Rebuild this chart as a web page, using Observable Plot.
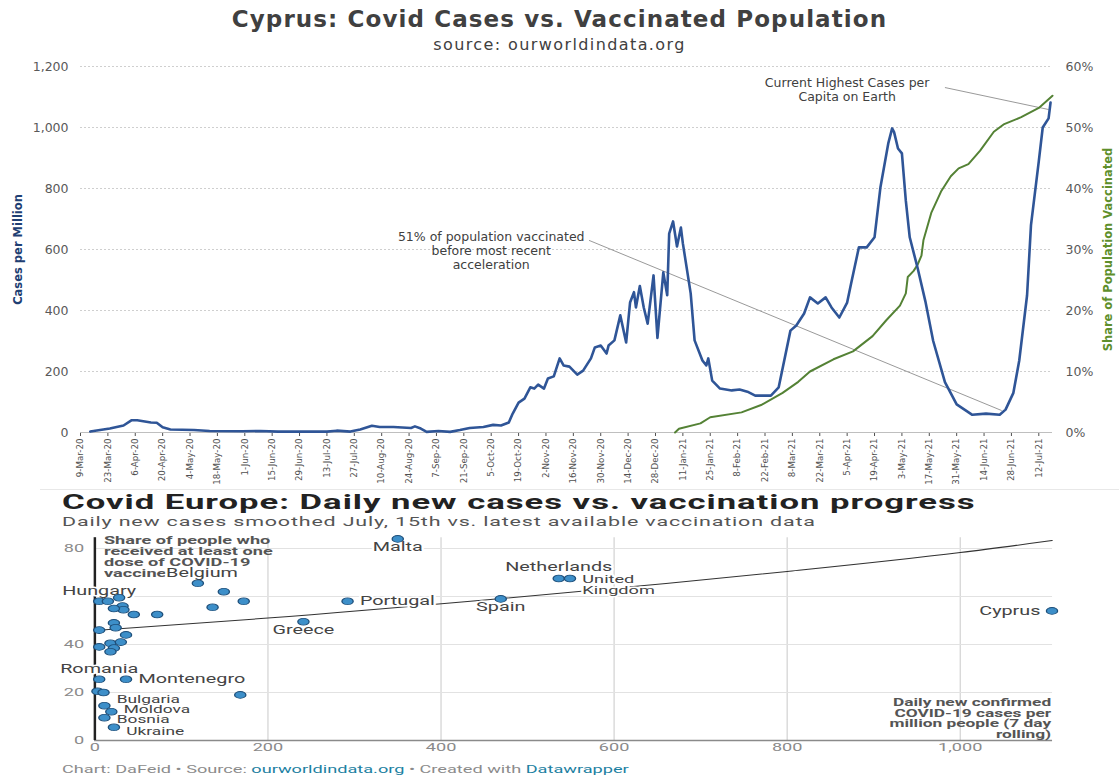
<!DOCTYPE html>
<html>
<head>
<meta charset="utf-8">
<script src="https://cdn.jsdelivr.net/npm/d3@7"></script>
<script src="https://cdn.jsdelivr.net/npm/@observablehq/plot@0.6"></script>
<style>
  html, body { margin:0; padding:0; background:#fff; }
  body { width:1119px; height:776px; position:relative; overflow:hidden; }
  #title { position:absolute; left:0; top:6px; width:1119px; text-align:center; font:bold 23px "DejaVu Sans", sans-serif; color:#404040; letter-spacing:1.1px; }
  #subtitle { position:absolute; left:0; top:35px; width:1119px; text-align:center; font:16px "DejaVu Sans", sans-serif; color:#404040; letter-spacing:1.4px; }
  #topchart { position:absolute; left:0; top:56px; }
  #sep { position:absolute; left:40px; top:489px; width:1079px; height:1px; background:#e8e8e8; }
  #bottom { position:absolute; left:0; top:488px; width:678px; height:288px; transform:scaleX(1.65); transform-origin:0 0; font-family:Roboto, sans-serif; }
  #btitle { position:absolute; left:37.6px; top:4px; font-weight:bold; font-size:21px; line-height:21px; color:#222; white-space:nowrap; letter-spacing:0.6px; }
  #bsub { position:absolute; left:37.6px; top:27px; font-size:13px; line-height:13px; color:#555; white-space:nowrap; letter-spacing:0.5px; }
  #bchart { position:absolute; left:0; top:42px; }
  #bfoot { position:absolute; left:37.6px; top:276px; font-size:11px; line-height:11px; color:#8c8c8c; white-space:nowrap; }
  #bfoot .lnk { color:#1d81a2; }
</style>
</head>
<body>
<div id="title">Cyprus: Covid Cases vs. Vaccinated Population</div>
<div id="subtitle">source: ourworldindata.org</div>
<div id="topchart"></div>
<div id="sep"></div>
<div id="bottom">
  <div id="btitle">Covid Europe: Daily new cases vs. vaccination progress</div>
  <div id="bsub">Daily new cases smoothed July, 15th vs. latest available vaccination data</div>
  <div id="bchart"></div>
  <div id="bfoot">Chart: DaFeid • Source: <span class="lnk">ourworldindata.org</span> • Created with <span class="lnk">Datawrapper</span></div>
</div>
<script>
// ---------------- Top chart data (days since 9-Mar-20) ----------------
const startDay = "2020-03-09";
const caseDays = [5,15,22,26,29,36,39,42,46,58,66,83,92,101,126,131,138,143,149,153,160,169,171,174,177,183,189,194,199,206,211,
  215,219,221,224,227,230,232,234,237,239,242,245,247,250,254,257,261,263,266,269,270,273,276,279,281,283,284,286,288,290,293,295,298,300,301,303,305,307,308,312,314,318,320,321,323,327,333,337,341,345,353,357,363,366,370,373,377,381,384,388,392,394,398,402,406,409,413,415,416,418,420,422,424,428,432,436,442,448,456,463,470,473,477,480,484,486,490,492,495,496];
const casesPerMillion = [3,13,23,40,40,33,32,17,10,8,5,4,5,3,3,6,3,10,22,18,18,15,20,13,2,5,2,8,15,18,25,
  23,33,62,98,111,148,144,157,144,177,184,243,220,216,190,203,243,279,285,259,285,302,384,295,426,460,410,480,410,357,515,310,525,450,652,692,610,672,620,456,302,236,220,243,170,144,138,141,134,121,121,148,334,351,390,443,423,443,410,377,426,488,607,607,640,803,947,997,985,931,915,760,640,540,430,300,165,92,58,62,58,75,130,236,450,680,890,1000,1030,1082];
const vaccDays = [304,306,317,322,338,348,359,367,373,385,395,405,412,419,422,423,426,428,430,431,435,440,445,449,454,460,467,472,481,490,497];
const vaccinatedPct = [0,0.6,1.5,2.5,3.3,4.5,6.5,8.3,10,12,13.3,15.8,18.4,20.8,22.8,25.5,26.5,27.5,29,31.5,36,39.5,42,43.3,44,46.2,49.3,50.5,51.7,53.2,55.2];
const casesTicks = [0,200,400,600,800,1000,1200];
const xTickLabels = ["9-Mar-20","23-Mar-20","6-Apr-20","20-Apr-20","4-May-20","18-May-20","1-Jun-20","15-Jun-20","29-Jun-20","13-Jul-20","27-Jul-20","10-Aug-20","24-Aug-20","7-Sep-20","21-Sep-20","5-Oct-20","19-Oct-20","2-Nov-20","16-Nov-20","30-Nov-20","14-Dec-20","28-Dec-20","11-Jan-21","25-Jan-21","8-Feb-21","22-Feb-21","8-Mar-21","22-Mar-21","5-Apr-21","19-Apr-21","3-May-21","17-May-21","31-May-21","14-Jun-21","28-Jun-21","12-Jul-21"];
const noteTexts = ["51% of population vaccinated\nbefore most recent\nacceleration", "Current Highest Cases per\nCapita on Earth"];
const noteDays = [210, 392];
const noteCases = [597, 1125];
const leaderFromDays = [260, 442];
const leaderFromCases = [630, 1131];
const leaderToDays = [471, 495];
const leaderToCases = [72, 1059];

// ---------------- Bottom chart data ----------------
const countryNames = ["Malta","Belgium","","","Hungary","","","","","","","","","Portugal","Greece","Spain","Netherlands","United\nKingdom","Cyprus","","","","","","","","","","Romania","Montenegro","","","","Bulgaria","Moldova","Bosnia","Ukraine"];
const dailyCases = [350,119,149,172,5,28,15,32,33,22,45,72,136,292,241,469,536,549,1106,5,22,24,36,5,18,30,22,18,5,36,3,10,168,11,19,11,22];
const sharedVaccinated = [84,65.5,62,58,58,59.5,58,56,54.5,55,52.5,52.5,55.5,58,49.5,59,67.5,67.5,54,46,49,47,44,39,40.5,41,38.5,37,25.5,25.5,20.5,20,19,14.5,12,9.5,5.5];
const trendCases = [0,200,434,660,800,1000,1106];
const trendVacc = [45.8,51,58,65.4,70.4,78.3,83.3];
const bXTicks = [0,200,400,600,800,1000];
const bYTicks = [0,20,40,80];
const bGrid = [20,40,60,80];

// ---------------- Build top chart ----------------
const start = d3.timeParse("%Y-%m-%d")(startDay);
const dayToDate = d => d3.timeDay.offset(start, d);
const parseTick = d3.timeParse("%d-%b-%y");
const fmtTick = d3.timeFormat("%-d-%b-%y");
const tickDates = xTickLabels.map(parseTick);
const cases = caseDays.map((d, i) => ({date: dayToDate(d), v: casesPerMillion[i]}));
const vacc = vaccDays.map((d, i) => ({date: dayToDate(d), v: vaccinatedPct[i] * 20})); // 60% <-> 1200
const notes = noteTexts.map((t, i) => ({t, date: dayToDate(noteDays[i]), v: noteCases[i]}));
const leaders = leaderFromDays.map((d, i) => ({
  x1: dayToDate(d), y1: leaderFromCases[i], x2: dayToDate(leaderToDays[i]), y2: leaderToCases[i]
}));

const topPlot = Plot.plot({
  width: 1119, height: 432,
  marginLeft: 80, marginRight: 67, marginTop: 10, marginBottom: 56,
  style: {fontFamily: "DejaVu Sans, sans-serif", background: "transparent", overflow: "visible"},
  x: {type: "time", domain: [start, dayToDate(497)]},
  y: {domain: [0, 1200]},
  marks: [
    Plot.gridY(casesTicks.filter(d => d > 0), {stroke: "#cfcfcf", strokeOpacity: 1, strokeDasharray: "2,2"}),
    Plot.axisY(casesTicks, {anchor: "left", tickSize: 0, tickPadding: 12, tickFormat: d3.format(","), fontSize: 12.5, color: "#595959", label: null}),
    Plot.axisY(casesTicks, {anchor: "right", tickSize: 0, tickPadding: 13, tickFormat: d => (d / 20) + "%", fontSize: 12.5, color: "#595959", label: null}),
    Plot.axisX(tickDates, {tickRotate: -90, tickFormat: fmtTick, tickSize: 4, tickPadding: 2, fontSize: 8.7, color: "#505050", label: null}),
    Plot.ruleY([0], {stroke: "#bfbfbf"}),
    Plot.link(leaders, {x1: "x1", y1: "y1", x2: "x2", y2: "y2", stroke: "#7f7f7f", strokeWidth: 0.8}),
    Plot.line(vacc, {x: "date", y: "v", stroke: "#548235", strokeWidth: 2}),
    Plot.line(cases, {x: "date", y: "v", stroke: "#2f5597", strokeWidth: 2.6, strokeLinejoin: "round"}),
    Plot.text(notes, {x: "date", y: "v", text: "t", fontSize: 12.5, fill: "#404040", lineHeight: 1.12, textAnchor: "middle"}),
    Plot.text(["Cases per Million"], {text: d => d, frameAnchor: "left", textAnchor: "middle", dx: -62, rotate: -90, fontSize: 11.5, fontWeight: "bold", fill: "#1f3f73"}),
    Plot.text(["Share of Population Vaccinated"], {text: d => d, frameAnchor: "right", textAnchor: "middle", dx: 56, rotate: -90, fontSize: 11.5, fontWeight: "bold", fill: "#5e8f2b"})
  ]
});
document.getElementById("topchart").appendChild(topPlot);

// ---------------- Build bottom chart ----------------
const countries = countryNames.map((n, i) => ({name: n, x: dailyCases[i], y: sharedVaccinated[i]}));
const trend = trendCases.map((x, i) => ({x, y: trendVacc[i]}));
const placement = {
  "Malta": "below", "Greece": "below", "Spain": "below",
  "Belgium": "aboveRight", "Hungary": "above", "Netherlands": "aboveHigh", "Romania": "above",
  "Cyprus": "left", "United\nKingdom": "rightTop",
  "Bulgaria": "stack1", "Moldova": "stack2", "Bosnia": "stack3", "Ukraine": "stack4"
};
const labeled = countries.filter(d => d.name);
const byPlace = p => labeled.filter(d => (placement[d.name] || "right") === p);
const labelStyle = {x: "x", y: "y", text: "name", fontSize: 12, fill: "#444", stroke: "white", strokeWidth: 3};
const stackStyle = {...labelStyle, fontSize: 10.5, textAnchor: "start", dx: 7.5};

const bottomPlot = Plot.plot({
  width: 678, height: 230,
  marginLeft: 57, marginRight: 40.4, marginTop: 7.2, marginBottom: 20,
  style: {fontFamily: "Roboto, sans-serif", background: "transparent", overflow: "visible"},
  x: {domain: [0, 1107]},
  y: {domain: [0, 84.5]},
  marks: [
    Plot.gridX(bXTicks.filter(d => d > 0), {stroke: "#d6d6d6", strokeOpacity: 1, strokeWidth: 0.8}),
    Plot.gridY(bGrid, {stroke: "#e2e2e2", strokeOpacity: 1}),
    Plot.ruleY([0], {stroke: "#8a8a8a", strokeWidth: 1.5}),
    Plot.ruleX([0], {stroke: "#222", strokeWidth: 1.5}),
    Plot.axisX(bXTicks, {tickSize: 0, tickPadding: 3, tickFormat: d3.format(","), fontSize: 11, color: "#8a8a8a", label: null}),
    Plot.axisY(bYTicks, {tickSize: 0, tickPadding: 6.5, fontSize: 11, color: "#8a8a8a", label: null}),
    Plot.line(trend, {x: "x", y: "y", stroke: "#333", strokeWidth: 1, curve: "monotone-x"}),
    Plot.text(["Share of people who\nreceived at least one\ndose of COVID-19\nvaccine"], {ariaLabel: "spaced-note", text: d => d, frameAnchor: "top-left", dx: 5.5, dy: -2, lineAnchor: "top", textAnchor: "start", fontSize: 11, fontWeight: "bold", fill: "#555", lineHeight: 1.0}),
    Plot.text(["Daily new confirmed\nCOVID-19 cases per\nmillion people (7 day\nrolling)"], {ariaLabel: "spaced-note", text: d => d, frameAnchor: "bottom-right", dx: -1, dy: -3, lineAnchor: "bottom", textAnchor: "end", fontSize: 10.5, fontWeight: "bold", fill: "#555", lineHeight: 1.0}),
    Plot.text(byPlace("below"), {...labelStyle, lineAnchor: "top", dy: 4}),
    Plot.text(byPlace("above"), {...labelStyle, lineAnchor: "bottom", dy: -6}),
    Plot.text(byPlace("aboveHigh"), {...labelStyle, lineAnchor: "bottom", dy: -8}),
    Plot.text(byPlace("aboveRight"), {...labelStyle, lineAnchor: "bottom", dy: -6, dx: 2.5}),
    Plot.text(byPlace("left"), {...labelStyle, textAnchor: "end", dx: -7}),
    Plot.text(byPlace("right"), {...labelStyle, textAnchor: "start", dx: 7.5}),
    Plot.text(byPlace("rightTop"), {...labelStyle, fontSize: 11, textAnchor: "start", dx: 7.5, lineAnchor: "top", dy: -4, lineHeight: 1.05}),
    Plot.text(byPlace("stack1"), {...stackStyle, dy: -6}),
    Plot.text(byPlace("stack2"), {...stackStyle, dy: -2}),
    Plot.text(byPlace("stack3"), {...stackStyle, dy: 2}),
    Plot.text(byPlace("stack4"), {...stackStyle, dy: 4}),
    Plot.dot(countries, {x: "x", y: "y", r: 3.4, fill: "#3d8fc9", stroke: "#1e4f7a", strokeWidth: 0.8})
  ]
});
bottomPlot.querySelectorAll('g[aria-label="spaced-note"] text').forEach(t => t.style.letterSpacing = "0.45px");
document.getElementById("bchart").appendChild(bottomPlot);
</script>
</body>
</html>
